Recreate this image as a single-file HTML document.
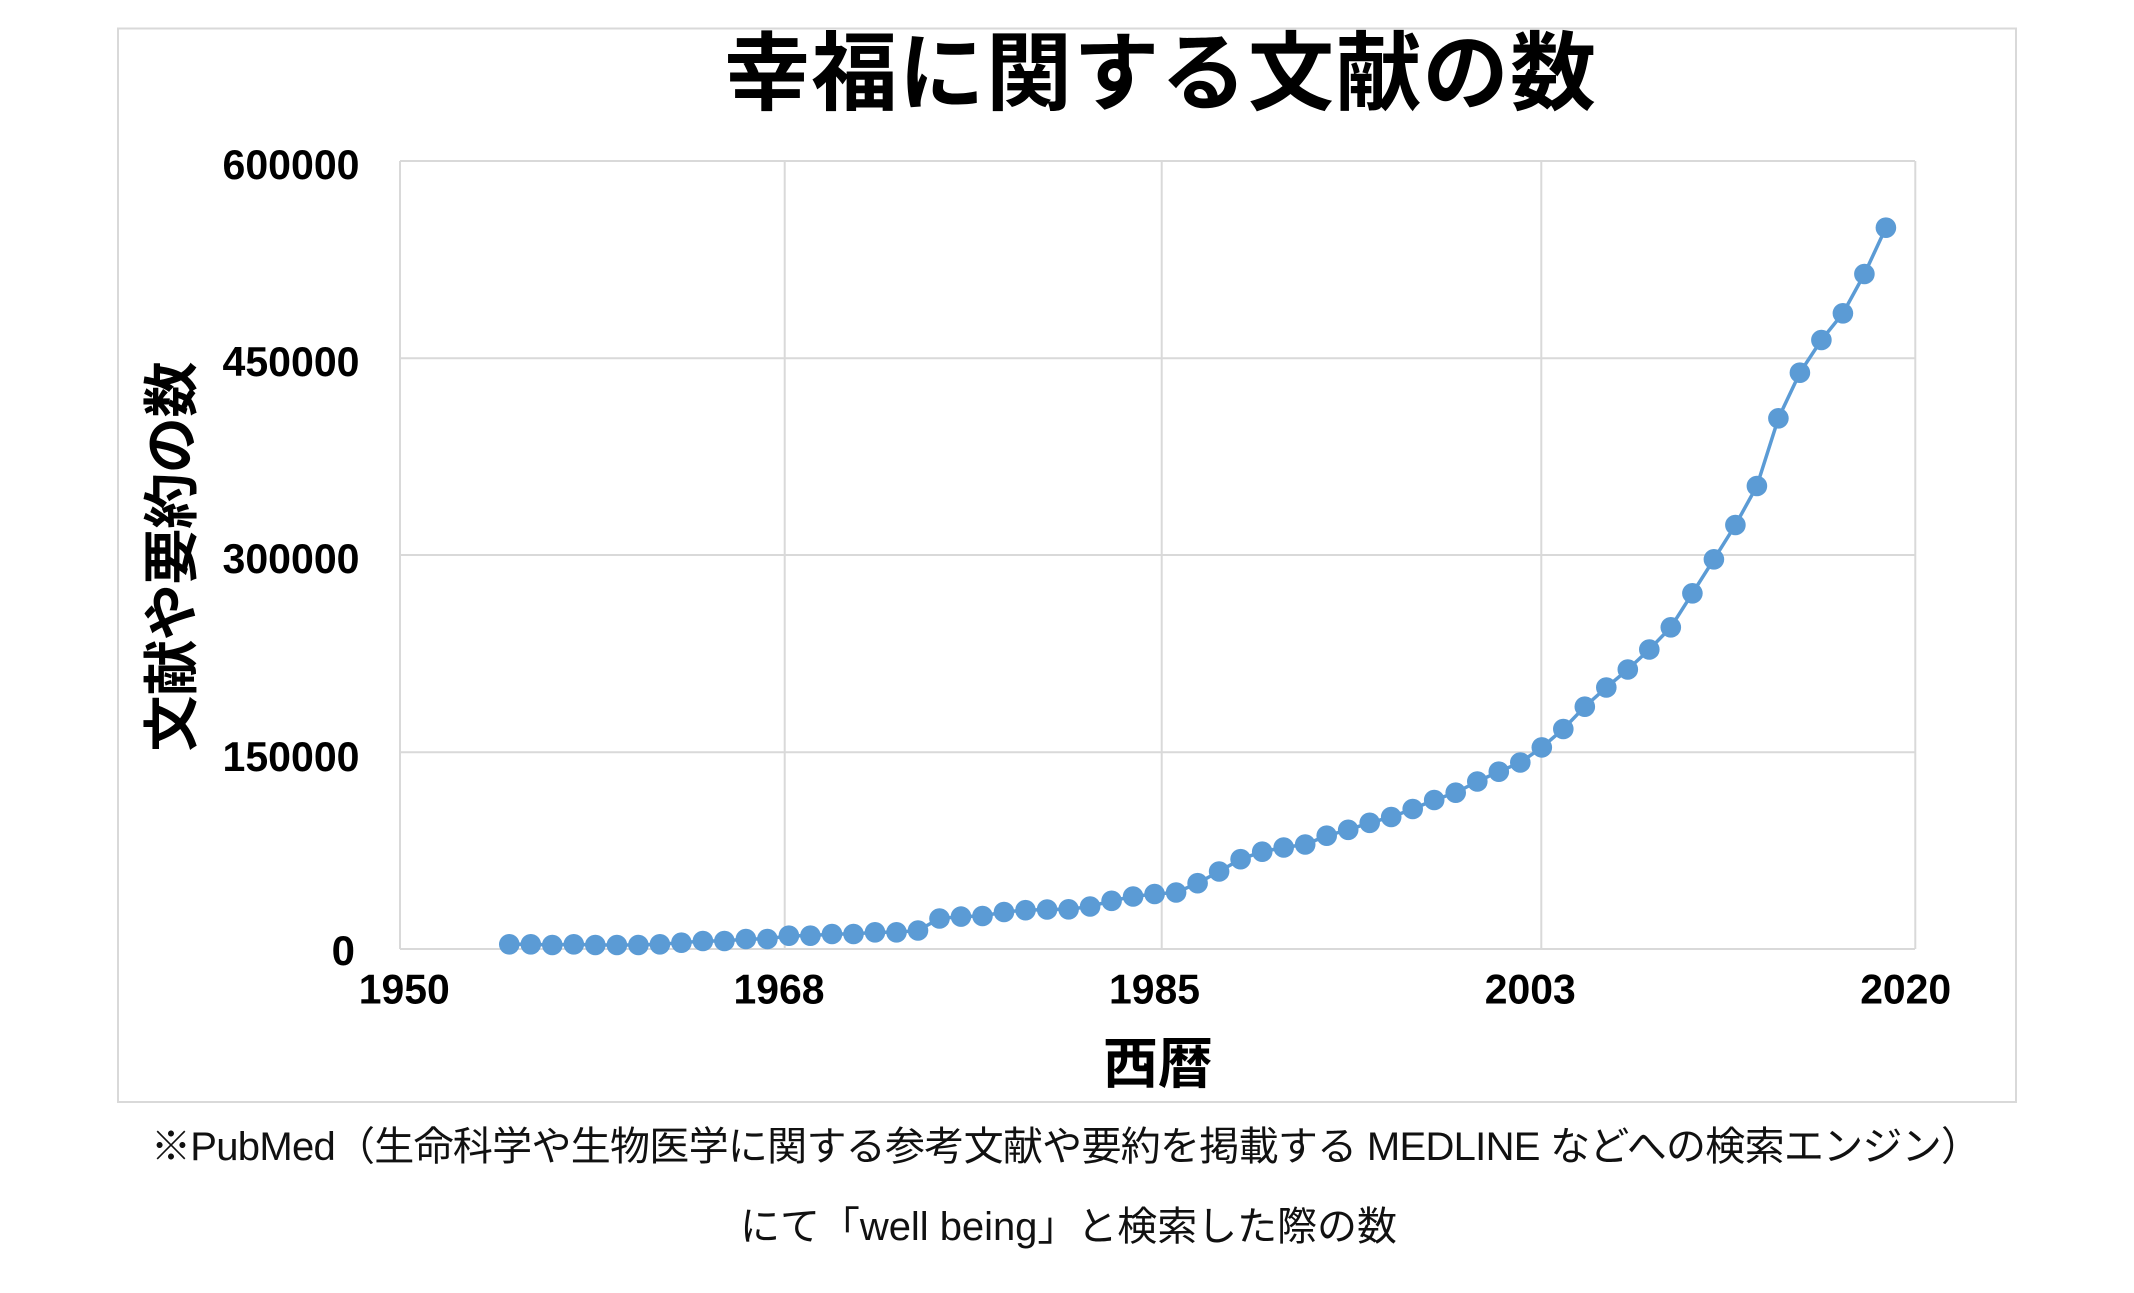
<!DOCTYPE html>
<html>
<head>
<meta charset="utf-8">
<style>
html,body{margin:0;padding:0;background:#fff;}
svg{display:block;}
.cjk{font-family:"Liberation Sans","Noto Sans CJK JP",sans-serif;}
.tick{font-family:"Liberation Sans","Noto Sans CJK JP",sans-serif;font-weight:bold;font-size:42px;fill:#000;}
</style>
</head>
<body>
<svg width="2134" height="1293" viewBox="0 0 2134 1293" xmlns="http://www.w3.org/2000/svg">
<defs>
<marker id="dot" markerUnits="userSpaceOnUse" markerWidth="22" markerHeight="22" refX="11" refY="11" overflow="visible">
<circle cx="11" cy="11" r="10.3" fill="#5b9bd5"/>
</marker>
</defs>
<rect x="0" y="0" width="2134" height="1293" fill="#fff"/>
<rect x="118" y="28.5" width="1898" height="1073.5" fill="none" stroke="#d9d9d9" stroke-width="2"/>

<text class="cjk" x="1160" y="74" text-anchor="middle" dominant-baseline="central" font-size="86" font-weight="bold" fill="#000" textLength="872" lengthAdjust="spacing">幸福に関する文献の数</text>

<path fill="none" stroke="#d9d9d9" stroke-width="2" d="M400 161H1915M400 358.3H1915M400 555H1915M400 752.3H1915M400 949H1915M400 161V949M784.7 161V949M1161.7 161V949M1541.3 161V949M1915.3 161V949"/>

<text class="tick" x="359.5" y="179" text-anchor="end" textLength="137" lengthAdjust="spacingAndGlyphs">600000</text>
<text class="tick" x="359.5" y="376" text-anchor="end" textLength="137" lengthAdjust="spacingAndGlyphs">450000</text>
<text class="tick" x="359.5" y="573" text-anchor="end" textLength="137" lengthAdjust="spacingAndGlyphs">300000</text>
<text class="tick" x="359.5" y="771" text-anchor="end" textLength="137" lengthAdjust="spacingAndGlyphs">150000</text>
<text class="tick" x="355" y="965" text-anchor="end">0</text>

<text class="tick" x="404.3" y="1003.5" text-anchor="middle" textLength="91" lengthAdjust="spacingAndGlyphs">1950</text>
<text class="tick" x="779" y="1003.5" text-anchor="middle" textLength="91" lengthAdjust="spacingAndGlyphs">1968</text>
<text class="tick" x="1154.5" y="1003.5" text-anchor="middle" textLength="91" lengthAdjust="spacingAndGlyphs">1985</text>
<text class="tick" x="1530.3" y="1003.5" text-anchor="middle" textLength="91" lengthAdjust="spacingAndGlyphs">2003</text>
<text class="tick" x="1905.7" y="1003.5" text-anchor="middle" textLength="91" lengthAdjust="spacingAndGlyphs">2020</text>

<text class="cjk" x="0" y="0" transform="translate(172,556.5) rotate(-90)" text-anchor="middle" dominant-baseline="central" font-size="56" font-weight="bold" fill="#000" textLength="390" lengthAdjust="spacing">文献や要約の数</text>
<text class="cjk" x="1158" y="1064" text-anchor="middle" dominant-baseline="central" font-size="55" font-weight="bold" fill="#000" textLength="110" lengthAdjust="spacing">西暦</text>

<polyline fill="none" stroke="#5b9bd5" stroke-width="3.5" stroke-linejoin="round" marker-start="url(#dot)" marker-mid="url(#dot)" marker-end="url(#dot)" points="509.3,944.3 530.8,944.3 552.3,945 573.8,944.3 595.3,945 616.9,945 638.4,945 659.9,944.3 681.4,942.7 702.9,941 724.4,941 745.9,939 767.4,939 788.9,935.7 810.4,935.7 832,934 853.5,934 875,932.3 896.5,932.3 918,930.5 939.5,918.5 961,916.6 982.5,916 1004,912 1025.5,910.2 1047.1,909.5 1068.6,909.3 1090.1,906.5 1111.6,900.8 1133.1,896.5 1154.6,894 1176.1,892.5 1197.6,883.2 1219.1,871.5 1240.6,859.2 1262.2,851.7 1283.7,847.5 1305.2,844.5 1326.7,835.7 1348.2,829.8 1369.7,822.8 1391.2,817 1412.7,809 1434.2,800 1455.7,792.7 1477.3,781.5 1498.8,771.7 1520.3,762.5 1541.8,747.4 1563.3,729 1584.8,706.7 1606.3,687.5 1627.8,669.5 1649.3,649.5 1670.8,627.3 1692.4,593.3 1713.9,559.3 1735.4,525 1756.9,486 1778.4,418.3 1799.9,372.7 1821.4,340 1842.9,313.3 1864.4,274 1885.9,227.7"/>

<text class="cjk" x="151" y="1160" font-size="40" fill="#111" textLength="1830" lengthAdjust="spacing">※PubMed（生命科学や生物医学に関する参考文献や要約を掲載する MEDLINE などへの検索エンジン）</text>
<text class="cjk" x="740" y="1240" font-size="40" fill="#111" textLength="657" lengthAdjust="spacing">にて「well being」と検索した際の数</text>
</svg>
</body>
</html>
